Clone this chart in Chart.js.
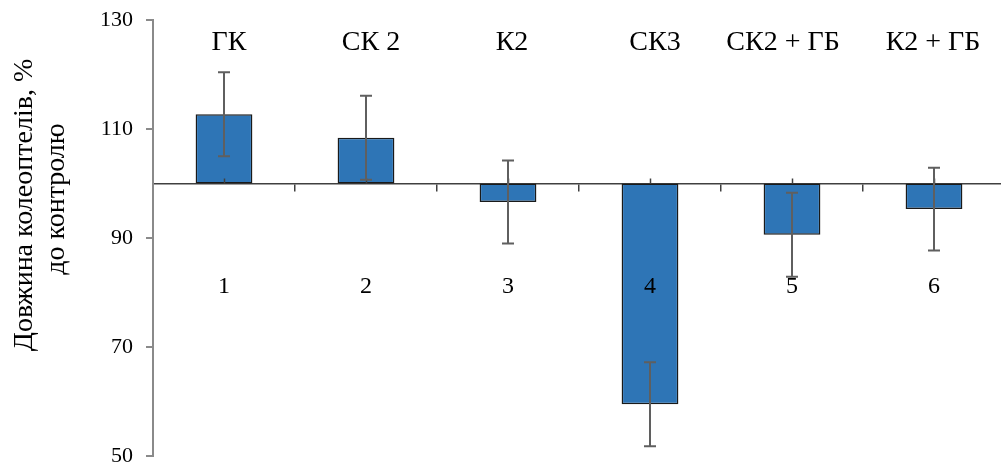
<!DOCTYPE html>
<html><head><meta charset="utf-8">
<script src="https://cdn.jsdelivr.net/npm/chart.js@4.4.1/dist/chart.umd.min.js"></script>
<style>html,body{margin:0;padding:0;overflow:hidden;background:#fff}#wrap{width:1005px;height:468px;position:relative}</style>
</head><body><div id="wrap"><canvas id="c" width="1005" height="468"></canvas></div>
<script>
const categories = ['1','2','3','4','5','6'];
const treatments = ['ГК','СК 2','К2','СК3','СК2 + ГБ','К2 + ГБ'];
const values = [112.7, 108.4, 96.6, 59.5, 90.6, 95.3];
const errors = [7.7, 7.7, 7.6, 7.7, 7.7, 7.6];
const baseline = 100;
const yMin = 50, yMax = 130, yStep = 20;
const yTitle = ['Довжина колеоптелів, %', 'до контролю'];

const FONT = '"Liberation Serif", "Times New Roman", serif';

const overlay = {
  id: 'overlay',
  afterDatasetsDraw(chart) {
    const ctx = chart.ctx, x = chart.scales.x, y = chart.scales.y;
    const nudge = [5, 5, 4, 5, -9, -1];
    ctx.save();
    const py0 = y.getPixelForValue(baseline);
    ctx.strokeStyle = '#404040'; ctx.lineWidth = 1.5;
    categories.forEach((c, i) => {
      const px = Math.round(x.getPixelForValue(i)) + 0.5;
      ctx.beginPath(); ctx.moveTo(px, py0); ctx.lineTo(px, py0 - 5); ctx.stroke();
    });
    ctx.strokeStyle = '#5f5f5f'; ctx.lineWidth = 2;
    values.forEach((v, i) => {
      const px = Math.round(x.getPixelForValue(i));
      const t = y.getPixelForValue(v + errors[i]), b = y.getPixelForValue(v - errors[i]);
      ctx.beginPath();
      ctx.moveTo(px, t); ctx.lineTo(px, b);
      ctx.moveTo(px - 6, t); ctx.lineTo(px + 6, t);
      ctx.moveTo(px - 6, b); ctx.lineTo(px + 6, b);
      ctx.stroke();
    });
    ctx.fillStyle = '#000'; ctx.font = '28px ' + FONT;
    ctx.textAlign = 'center'; ctx.textBaseline = 'alphabetic';
    treatments.forEach((t, i) => ctx.fillText(t, x.getPixelForValue(i) + nudge[i], 50));
    ctx.restore();
  },
  afterDraw(chart) {
    const ctx = chart.ctx;
    ctx.save();
    ctx.fillStyle = '#000'; ctx.font = '28px ' + FONT;
    ctx.textAlign = 'center'; ctx.textBaseline = 'alphabetic';
    ctx.translate(32, 205); ctx.rotate(-Math.PI / 2);
    ctx.fillText(yTitle[0], 0, 0);
    ctx.restore();
    ctx.save();
    ctx.fillStyle = '#000'; ctx.font = '28px ' + FONT;
    ctx.textAlign = 'center'; ctx.textBaseline = 'alphabetic';
    ctx.translate(64, 199); ctx.rotate(-Math.PI / 2);
    ctx.fillText(yTitle[1], 0, 0);
    ctx.restore();
  }
};

function noPad(scale) {
  scale.paddingLeft = 0; scale.paddingRight = 0;
  scale.paddingTop = 0; scale.paddingBottom = 0;
}

new Chart(document.getElementById('c'), {
  type: 'bar',
  data: {
    labels: categories,
    datasets: [{
      data: values.map(v => [baseline, v]),
      backgroundColor: '#2E75B6',
      borderColor: '#1a1a1a',
      borderWidth: 1.5,
      borderSkipped: false,
      categoryPercentage: 0.4,
      barPercentage: 1.0
    }]
  },
  options: {
    responsive: false,
    animation: false,
    layout: { padding: { left: 0, right: 0, top: 20, bottom: 12 } },
    plugins: { legend: { display: false }, tooltip: { enabled: false } },
    scales: {
      x: {
        type: 'category',
        position: { y: baseline },
        afterFit: noPad,
        grid: { drawOnChartArea: false, offset: true, tickLength: 7, color: '#404040', lineWidth: 1.5 },
        border: { color: '#404040', width: 1.5 },
        ticks: { z: 1, autoSkip: false, font: { family: FONT, size: 24 }, color: '#000', padding: 82, maxRotation: 0 }
      },
      y: {
        min: yMin, max: yMax,
        afterFit(scale) { scale.width = 153; noPad(scale); },
        grid: { drawOnChartArea: false, tickLength: 7, color: '#8a8a8a', lineWidth: 2 },
        border: { color: '#8a8a8a', width: 2 },
        ticks: { stepSize: yStep, font: { family: FONT, size: 22 }, color: '#000', padding: 13 }
      }
    }
  },
  plugins: [overlay]
});
</script>
</body></html>
